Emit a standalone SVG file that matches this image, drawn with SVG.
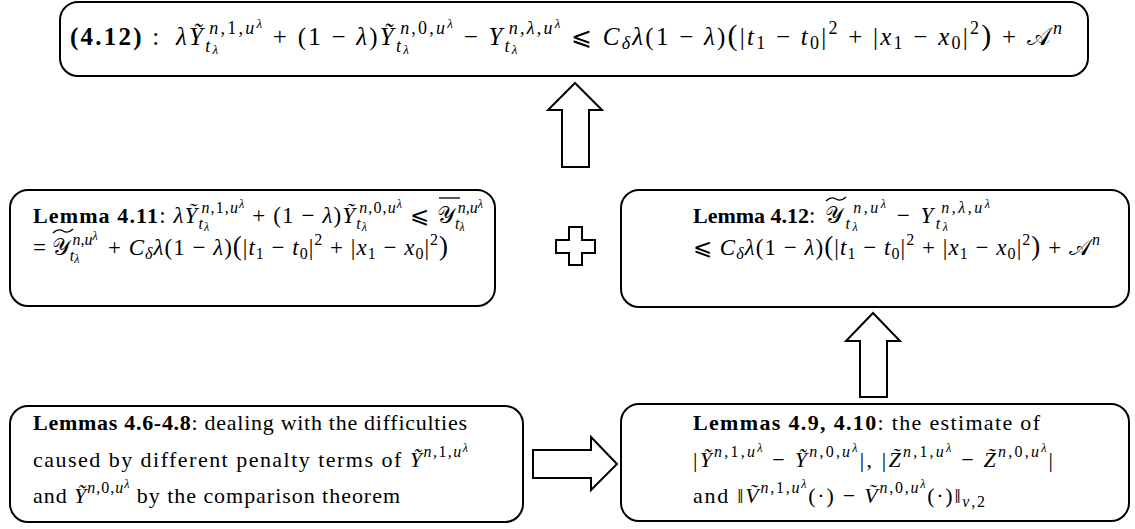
<svg xmlns="http://www.w3.org/2000/svg" width="1135" height="529" viewBox="0 0 1135 529">
<style>
.box{fill:#fff;stroke:#000;stroke-width:2}
.arr{fill:#fff;stroke:#000;stroke-width:2;stroke-linejoin:miter}
.acc{fill:none;stroke:#000;stroke-width:1.3}
.t{font-family:"Liberation Serif","DejaVu Serif",serif;font-size:23px;fill:#000}
.tb{font-size:22px}
.tp{font-size:25px}
.i{font-style:italic}
.b{font-weight:bold}
.bl{font-weight:bold;font-size:22px}
.s{font-size:16px}
.ss{font-size:12px}
.S{font-size:18px}
.SS{font-size:13px}
</style>
<rect width="1135" height="529" fill="#fff"/>
<g id="connectors">
<polygon class="arr" points="575,83 602,110 589,110 589,167 562,167 562,110 548,110"/>
<polygon class="arr" points="569,227 582,227 582,240 595,240 595,253 582,253 582,265 569,265 569,253 556,253 556,240 569,240"/>
<polygon class="arr" points="873,313 900,341 887,341 887,397 860,397 860,341 846,341"/>
<polygon class="arr" points="533,450 591,450 591,437 617,464 591,490 591,478 533,478"/>
</g>
<g id="node-4-12">
<rect class="box" x="60" y="2" width="1028" height="74" rx="18"/>
<text class="t tp" x="70" y="45" textLength="992" lengthAdjust="spacing"><tspan class="b">(4.12)</tspan> :  <tspan dx="6" class="i">λỸ</tspan><tspan class="S i" baseline-shift="-7">t<tspan class="SS" baseline-shift="-2">λ</tspan></tspan><tspan class="S" dx="-11" baseline-shift="11"><tspan class="i">n</tspan>,1,<tspan class="i">u</tspan><tspan class="SS i" baseline-shift="6">λ</tspan></tspan> + (1 − <tspan class="i">λ</tspan>)<tspan class="i">Ỹ</tspan><tspan class="S i" baseline-shift="-7">t<tspan class="SS" baseline-shift="-2">λ</tspan></tspan><tspan class="S" dx="-11" baseline-shift="11"><tspan class="i">n</tspan>,0,<tspan class="i">u</tspan><tspan class="SS i" baseline-shift="6">λ</tspan></tspan> − <tspan class="i">Y</tspan><tspan class="S i" baseline-shift="-7">t<tspan class="SS" baseline-shift="-2">λ</tspan></tspan><tspan class="S" dx="-11" baseline-shift="11"><tspan class="i">n</tspan>,<tspan class="i">λ</tspan>,<tspan class="i">u</tspan><tspan class="SS i" baseline-shift="6">λ</tspan></tspan>  ⩽  <tspan class="i">C</tspan><tspan class="S i" baseline-shift="-4">δ</tspan><tspan class="i">λ</tspan>(1 − <tspan class="i">λ</tspan>)<tspan font-size="30">(</tspan>|<tspan class="i">t</tspan><tspan class="S" baseline-shift="-4">1</tspan> − <tspan class="i">t</tspan><tspan class="S" baseline-shift="-4">0</tspan>|<tspan class="S" baseline-shift="11">2</tspan> + |<tspan class="i">x</tspan><tspan class="S" baseline-shift="-4">1</tspan> − <tspan class="i">x</tspan><tspan class="S" baseline-shift="-4">0</tspan>|<tspan class="S" baseline-shift="11">2</tspan><tspan font-size="30">)</tspan> + 𝒜<tspan class="S i" baseline-shift="11">n</tspan></text>
</g>
<g id="node-lemma-4-11">
<rect class="box" x="10" y="190" width="485" height="116" rx="18"/>
<text class="t" x="33" y="223" textLength="396" lengthAdjust="spacing"><tspan class="bl">Lemma 4.11</tspan>: <tspan class="i">λỸ</tspan><tspan class="s i" baseline-shift="-6">t<tspan class="ss" baseline-shift="-2">λ</tspan></tspan><tspan class="s" dx="-9" baseline-shift="10"><tspan class="i">n</tspan>,1,<tspan class="i">u</tspan><tspan class="ss i" baseline-shift="5">λ</tspan></tspan> + (1 − <tspan class="i">λ</tspan>)<tspan class="i">Ỹ</tspan><tspan class="s i" baseline-shift="-6">t<tspan class="ss" baseline-shift="-2">λ</tspan></tspan><tspan class="s" dx="-9" baseline-shift="10"><tspan class="i">n</tspan>,0,<tspan class="i">u</tspan><tspan class="ss i" baseline-shift="5">λ</tspan></tspan> ⩽</text>
<text class="t" x="437" y="223">𝒴<tspan class="s i" baseline-shift="-6">t<tspan class="ss" baseline-shift="-2">λ</tspan></tspan><tspan class="s" dx="-7" baseline-shift="10"><tspan class="i">n</tspan>,<tspan class="i">u</tspan><tspan class="ss i" baseline-shift="5">λ</tspan></tspan></text>
<path class="acc" d="M439 198 H460"/>
<text class="t" x="33" y="255">= 𝒴<tspan class="s i" baseline-shift="-6">t<tspan class="ss" baseline-shift="-2">λ</tspan></tspan><tspan class="s" dx="-7" baseline-shift="10"><tspan class="i">n</tspan>,<tspan class="i">u</tspan><tspan class="ss i" baseline-shift="5">λ</tspan></tspan></text>
<path class="acc" d="M53 233 q5 -5 10 -2 t10 -2"/>
<text class="t" x="108" y="255" textLength="340" lengthAdjust="spacing">+ <tspan class="i">C</tspan><tspan class="s i" baseline-shift="-4">δ</tspan><tspan class="i">λ</tspan>(1 − <tspan class="i">λ</tspan>)<tspan font-size="27">(</tspan>|<tspan class="i">t</tspan><tspan class="s" baseline-shift="-4">1</tspan> − <tspan class="i">t</tspan><tspan class="s" baseline-shift="-4">0</tspan>|<tspan class="s" baseline-shift="10">2</tspan> + |<tspan class="i">x</tspan><tspan class="s" baseline-shift="-4">1</tspan> − <tspan class="i">x</tspan><tspan class="s" baseline-shift="-4">0</tspan>|<tspan class="s" baseline-shift="10">2</tspan><tspan font-size="27">)</tspan></text>
</g>
<g id="node-lemma-4-12">
<rect class="box" x="621" y="190" width="508" height="117" rx="18"/>
<text class="t" x="693" y="223"><tspan class="bl">Lemma 4.12</tspan>:</text>
<text class="t" x="825" y="223" textLength="165" lengthAdjust="spacing">𝒴<tspan class="s i" baseline-shift="-6">t<tspan class="ss" baseline-shift="-2">λ</tspan></tspan><tspan class="s" dx="-7" baseline-shift="10"><tspan class="i">n</tspan>,<tspan class="i">u</tspan><tspan class="ss i" baseline-shift="5">λ</tspan></tspan> − <tspan class="i">Y</tspan><tspan class="s i" baseline-shift="-6">t<tspan class="ss" baseline-shift="-2">λ</tspan></tspan><tspan class="s" dx="-9" baseline-shift="10"><tspan class="i">n</tspan>,<tspan class="i">λ</tspan>,<tspan class="i">u</tspan><tspan class="ss i" baseline-shift="5">λ</tspan></tspan></text>
<path class="acc" d="M826 201 q5 -5 10 -2 t10 -2"/>
<text class="t" x="693" y="255" textLength="407" lengthAdjust="spacing">⩽ <tspan class="i">C</tspan><tspan class="s i" baseline-shift="-4">δ</tspan><tspan class="i">λ</tspan>(1 − <tspan class="i">λ</tspan>)<tspan font-size="27">(</tspan>|<tspan class="i">t</tspan><tspan class="s" baseline-shift="-4">1</tspan> − <tspan class="i">t</tspan><tspan class="s" baseline-shift="-4">0</tspan>|<tspan class="s" baseline-shift="10">2</tspan> + |<tspan class="i">x</tspan><tspan class="s" baseline-shift="-4">1</tspan> − <tspan class="i">x</tspan><tspan class="s" baseline-shift="-4">0</tspan>|<tspan class="s" baseline-shift="10">2</tspan><tspan font-size="27">)</tspan> + 𝒜<tspan class="s i" baseline-shift="10">n</tspan></text>
</g>
<g id="node-lemmas-4-6-4-8">
<rect class="box" x="10" y="406" width="513" height="116" rx="18"/>
<text class="t tb" x="33" y="430" textLength="434" lengthAdjust="spacing"><tspan class="b">Lemmas 4.6-4.8</tspan>: dealing with the difficulties</text>
<text class="t tb" x="33" y="467" textLength="435" lengthAdjust="spacing">caused by different penalty terms of <tspan class="i">Ỹ</tspan><tspan class="s" baseline-shift="10"><tspan class="i">n</tspan>,1,<tspan class="i">u</tspan><tspan class="ss i" baseline-shift="5">λ</tspan></tspan></text>
<text class="t tb" x="33" y="503" textLength="367" lengthAdjust="spacing">and <tspan class="i">Ỹ</tspan><tspan class="s" baseline-shift="10"><tspan class="i">n</tspan>,0,<tspan class="i">u</tspan><tspan class="ss i" baseline-shift="5">λ</tspan></tspan> by the comparison theorem</text>
</g>
<g id="node-lemmas-4-9-4-10">
<rect class="box" x="621" y="404" width="508" height="117" rx="18"/>
<text class="t tb" x="693" y="430" textLength="347" lengthAdjust="spacing"><tspan class="b">Lemmas 4.9, 4.10</tspan>: the estimate of</text>
<text class="t tb" x="693" y="467" textLength="360" lengthAdjust="spacing">|<tspan class="i">Ỹ</tspan><tspan class="s" baseline-shift="10"><tspan class="i">n</tspan>,1,<tspan class="i">u</tspan><tspan class="ss i" baseline-shift="5">λ</tspan></tspan> − <tspan class="i">Ỹ</tspan><tspan class="s" baseline-shift="10"><tspan class="i">n</tspan>,0,<tspan class="i">u</tspan><tspan class="ss i" baseline-shift="5">λ</tspan></tspan>|,  |<tspan class="i">Z̃</tspan><tspan class="s" baseline-shift="10"><tspan class="i">n</tspan>,1,<tspan class="i">u</tspan><tspan class="ss i" baseline-shift="5">λ</tspan></tspan> − <tspan class="i">Z̃</tspan><tspan class="s" baseline-shift="10"><tspan class="i">n</tspan>,0,<tspan class="i">u</tspan><tspan class="ss i" baseline-shift="5">λ</tspan></tspan>|</text>
<text class="t tb" x="693" y="503" textLength="292" lengthAdjust="spacing">and ‖<tspan class="i">Ṽ</tspan><tspan class="s" baseline-shift="10"><tspan class="i">n</tspan>,1,<tspan class="i">u</tspan><tspan class="ss i" baseline-shift="5">λ</tspan></tspan>(·) − <tspan class="i">Ṽ</tspan><tspan class="s" baseline-shift="10"><tspan class="i">n</tspan>,0,<tspan class="i">u</tspan><tspan class="ss i" baseline-shift="5">λ</tspan></tspan>(·)‖<tspan class="s" baseline-shift="-4"><tspan class="i">ν</tspan>,2</tspan></text>
</g>
</svg>
